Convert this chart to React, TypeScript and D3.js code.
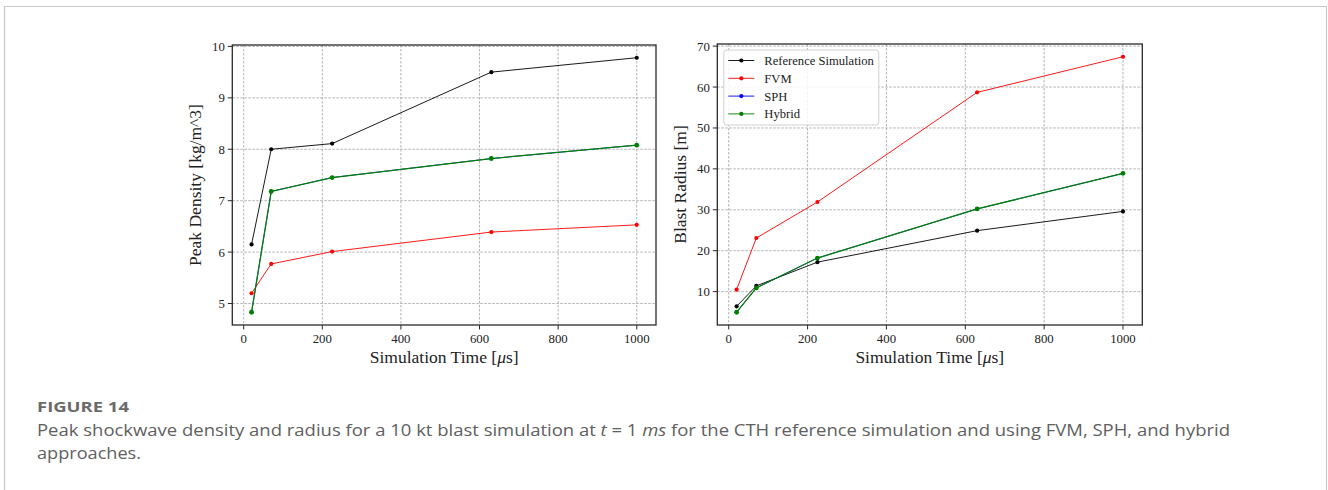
import React from "react";
import * as d3 from "d3";

const times = [20, 70, 225, 630, 1000];
const densityRef = [6.15, 8.0, 8.11, 9.5, 9.78];
const densityFVM = [5.2, 5.77, 6.01, 6.39, 6.53];
const densitySPH = [4.83, 7.18, 7.45, 7.82, 8.08];
const densityHybrid = [4.83, 7.18, 7.45, 7.82, 8.08];

const radiusRef = [6.4, 11.4, 17.2, 24.9, 29.6];
const radiusFVM = [10.5, 23.1, 31.9, 58.7, 67.4];
const radiusSPH = [4.96, 10.9, 18.2, 30.2, 38.9];
const radiusHybrid = [4.96, 10.9, 18.2, 30.2, 38.9];

const seriesNames = ["Reference Simulation", "FVM", "SPH", "Hybrid"];
const seriesColors = ["#000000", "#ff0000", "#0000ff", "#008000"];
const seriesWidths = [0.9, 0.9, 0.8, 1.25];
const markerR = [2.1, 2.1, 1.9, 2.4];
const xTicks = [0, 200, 400, 600, 800, 1000];
const densityTicks = [5, 6, 7, 8, 9, 10];
const radiusTicks = [10, 20, 30, 40, 50, 60, 70];

const SERIF = "'Liberation Serif', 'Times New Roman', serif";
const SANS = "'Open Sans', 'Noto Sans', sans-serif";

type PanelProps = {
  left: number;
  top: number;
  right: number;
  bottom: number;
  series: number[][];
  yTicks: number[];
  yLabel: string;
  legend?: boolean;
};

function pad(ext: [number, number]): [number, number] {
  const span = ext[1] - ext[0];
  return [ext[0] - span * 0.05, ext[1] + span * 0.05];
}

function Panel({ left, top, right, bottom, series, yTicks, yLabel, legend }: PanelProps) {
  const xExt = pad(d3.extent(times) as [number, number]);
  const allY = series.flat();
  const yExt = pad(d3.extent(allY) as [number, number]);
  const x = d3.scaleLinear().domain(xExt).range([left, right]);
  const y = d3.scaleLinear().domain(yExt).range([bottom, top]);
  const line = d3
    .line<number>()
    .x((_, i) => x(times[i]))
    .y((d) => y(d));
  const gridColor = "#a0a0a0";
  const cx = (left + right) / 2;
  const cy = (top + bottom) / 2;
  return (
    <g>
      {xTicks.map((t) => (
        <line key={"gx" + t} x1={x(t)} x2={x(t)} y1={top} y2={bottom} stroke={gridColor} strokeWidth={0.8} strokeDasharray="2.5,1.5" />
      ))}
      {yTicks.map((t) => (
        <line key={"gy" + t} x1={left} x2={right} y1={y(t)} y2={y(t)} stroke={gridColor} strokeWidth={0.8} strokeDasharray="2.5,1.5" />
      ))}
      {series.map((s, k) => (
        <g key={"s" + k}>
          <path d={line(s) || ""} fill="none" stroke={seriesColors[k]} strokeWidth={seriesWidths[k]} />
          {s.map((v, i) => (
            <circle key={i} cx={x(times[i])} cy={y(v)} r={markerR[k]} fill={seriesColors[k]} />
          ))}
        </g>
      ))}
      <rect x={left} y={top} width={right - left} height={bottom - top} fill="none" stroke="#2a2a2a" strokeWidth={1.3} />
      {xTicks.map((t) => (
        <g key={"tx" + t}>
          <line x1={x(t)} x2={x(t)} y1={bottom} y2={bottom + 4.5} stroke="#2a2a2a" strokeWidth={1} />
          <text x={x(t)} y={bottom + 18} textAnchor="middle" fontFamily={SERIF} fontSize={12.8} fill="#222">
            {t}
          </text>
        </g>
      ))}
      {yTicks.map((t) => (
        <g key={"ty" + t}>
          <line x1={left - 4.5} x2={left} y1={y(t)} y2={y(t)} stroke="#2a2a2a" strokeWidth={1} />
          <text x={left - 7.5} y={y(t)} dy="0.35em" textAnchor="end" fontFamily={SERIF} fontSize={12.8} fill="#222">
            {t}
          </text>
        </g>
      ))}
      <text x={cx} y={bottom + 38} textAnchor="middle" fontFamily={SERIF} fontSize={17.5} fill="#222">
        Simulation Time [<tspan fontStyle="italic">μ</tspan>s]
      </text>
      <text
        transform={`translate(${left - 31},${cy}) rotate(-90)`}
        textAnchor="middle"
        fontFamily={SERIF}
        fontSize={17.5}
        fill="#222"
      >
        {yLabel}
      </text>
      {legend && (
        <g>
          <rect x={left + 6.5} y={top + 6} width={155} height={75} rx={3} fill="#ffffff" fillOpacity={0.85} stroke="#d0d0d0" strokeWidth={1} />
          {seriesNames.map((n, k) => {
            const ly = top + 16.5 + k * 17.8;
            return (
              <g key={n}>
                <line x1={left + 11} x2={left + 37} y1={ly} y2={ly} stroke={seriesColors[k]} strokeWidth={0.9} />
                <circle cx={left + 24} cy={ly} r={2.1} fill={seriesColors[k]} />
                <text x={left + 47} y={ly} dy="0.35em" fontFamily={SERIF} fontSize={12.6} fill="#222">
                  {n}
                </text>
              </g>
            );
          })}
        </g>
      )}
    </g>
  );
}

export default function App() {
  return (
    <svg width={1328} height={490} style={{ position: "absolute", left: 0, top: 0, background: "#fff" }}>
      <rect x={0} y={0} width={1328} height={490} fill="#ffffff" />
      <path d="M4.5,495 L4.5,6.5 L1326.5,6.5 L1326.5,495" fill="none" stroke="#c8c8c8" strokeWidth={1.2} />
      <Panel
        left={232.3}
        top={45}
        right={656}
        bottom={325}
        series={[densityRef, densityFVM, densitySPH, densityHybrid]}
        yTicks={densityTicks}
        yLabel="Peak Density [kg/m^3]"
      />
      <Panel
        left={717.3}
        top={44}
        right={1142.3}
        bottom={325}
        series={[radiusRef, radiusFVM, radiusSPH, radiusHybrid]}
        yTicks={radiusTicks}
        yLabel="Blast Radius [m]"
        legend
      />
      <text x={37} y={411.5} fontFamily={SANS} fontWeight={700} fontSize={15} fill="#6a6a6a" textLength={92} lengthAdjust="spacingAndGlyphs">
        FIGURE 14
      </text>
      <text x={37} y={436} fontFamily={SANS} fontSize={16} fill="#606060" textLength={1193} lengthAdjust="spacingAndGlyphs">
        <tspan>Peak shockwave density and radius for a 10 kt blast simulation at </tspan>
        <tspan fontStyle="italic">t</tspan>
        <tspan> = 1 </tspan>
        <tspan fontStyle="italic">ms</tspan>
        <tspan> for the CTH reference simulation and using FVM, SPH, and hybrid</tspan>
      </text>
      <text x={37} y={459} fontFamily={SANS} fontSize={16} fill="#606060" textLength={104} lengthAdjust="spacingAndGlyphs">
        approaches.
      </text>
    </svg>
  );
}
